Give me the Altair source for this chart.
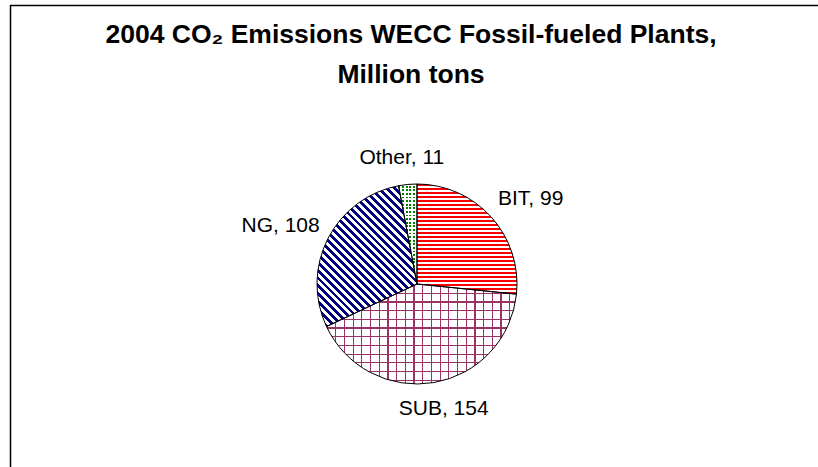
import math
import altair as alt
import pandas as pd

# ---- data ----
fuels = ["BIT", "SUB", "NG", "Other"]
emissions = [99, 154, 108, 11]
title_lines = ["2004 CO\u2082 Emissions WECC Fossil-fueled Plants,", "Million tons"]

# ---- layout / style ----
CX, CY, R = 417, 284, 100
FONT = "Liberation Sans"
LABEL_FONT = 21
GAP = 16.5
LABEL_H = 20

df = pd.DataFrame({"fuel": fuels, "value": emissions, "idx": list(range(len(fuels)))})
total = sum(emissions)


def slice_bbox(i):
    start = sum(emissions[:i]) / total * 360
    end = start + emissions[i] / total * 360
    pts = [(0.0, 0.0)]
    angs = [start, end] + [a for a in (0, 90, 180, 270, 360) if start < a < end]
    for a in angs:
        t = math.radians(a)
        pts.append((R * math.sin(t), -R * math.cos(t)))
    xs = [p[0] for p in pts]
    ys = [p[1] for p in pts]
    return max(xs) - min(xs), max(ys) - min(ys)


def stripe_stops(extent, period, ink, c_on, c_off):
    n = extent / period
    f = ink / period
    stops = []
    k = 0
    while k < n:
        a = min(k / n, 1)
        b = min((k + f) / n, 1)
        c = min((k + 1) / n, 1)
        stops += [
            {"offset": a, "color": c_on},
            {"offset": b, "color": c_on},
            {"offset": b, "color": c_off},
            {"offset": c, "color": c_off},
        ]
        k += 1
    return stops


def grad(stops, x1, y1, x2, y2):
    return {"gradient": "linear", "stops": stops, "x1": x1, "y1": y1, "x2": x2, "y2": y2}


CLEAR = "rgba(255,255,255,0)"

# BIT: horizontal red stripes
w, h = slice_bbox(0)
g_bit = grad(stripe_stops(h, 4.0, 2.1, "#FF0000", "#FFFFFF"), 0, 0, 0, 1)

# SUB: plum grid
w, h = slice_bbox(1)
g_sub_v = grad(stripe_stops(w, 8.7, 1.2, "#993366", "#FFFFFF"), 0, 0, 1, 0)
g_sub_h = grad(stripe_stops(h, 8.7, 1.2, "#993366", CLEAR), 0, 0, 0, 1)

# NG: navy diagonal stripes (top-left to bottom-right)
w, h = slice_bbox(2)
m = max(w, h)
gx, gy = w / m, -h / m
tmax = gx - gy
s = tmax / (gx * gx + gy * gy)
D = (w + h) / math.sqrt(2)
g_ng = grad(stripe_stops(D, 5.6, 2.8, "#000080", "#FFFFFF"), 0, 1, gx * s, 1 + gy * s)

# Other: green dots
w, h = slice_bbox(3)
g_oth_v = grad(stripe_stops(w, 3.6, 1.8, "#008000", "#FFFFFF"), 0, 0, 1, 0)
g_oth_h = grad(stripe_stops(h, 3.6, 1.8, "#FFFFFF", CLEAR), 0, 0, 0, 1)

base = alt.Chart(df).encode(
    theta=alt.Theta("value:Q", stack=True),
    order=alt.Order("idx:Q", sort="ascending"),
    x=alt.value(CX),
    y=alt.value(CY),
)


def fill_layer(fuel, g):
    return base.mark_arc(outerRadius=R).encode(
        fill=alt.condition(alt.datum.fuel == fuel, alt.value(g), alt.value("transparent"))
    )


layers = [
    fill_layer("BIT", g_bit),
    fill_layer("SUB", g_sub_v),
    fill_layer("SUB", g_sub_h),
    fill_layer("NG", g_ng),
    fill_layer("Other", g_oth_v),
    fill_layer("Other", g_oth_h),
    base.mark_arc(outerRadius=R, fillOpacity=0, stroke="black", strokeWidth=1),
]

labels = (
    alt.Chart(df)
    .transform_window(cum="sum(value)", sort=[alt.SortField("idx")])
    .transform_joinaggregate(total="sum(value)")
    .transform_calculate(
        label="datum.fuel + ', ' + datum.value",
        ang="(datum.cum - datum.value / 2) / datum.total * 2 * PI",
        w=f"length(datum.label) * {0.5 * LABEL_FONT}",
        lx=f"{CX} + ({R} + {GAP} + datum.w / 2) * sin(datum.ang)",
        ly=f"{CY} - ({R} + {GAP} + {LABEL_H / 2}) * cos(datum.ang)",
    )
    .mark_text(font=FONT, fontSize=LABEL_FONT, align="center", baseline="middle", color="black")
    .encode(
        x=alt.X("lx:Q", scale=None, axis=None),
        y=alt.Y("ly:Q", scale=None, axis=None),
        text="label:N",
    )
)

one = alt.Data(values=[{}])
title = alt.Chart(one).mark_text(
    text=title_lines, font=FONT, fontSize=26.5, fontWeight="bold",
    align="center", baseline="alphabetic", lineHeight=40, color="black",
).encode(x=alt.value(411), y=alt.value(43))

frame_top = alt.Chart(one).mark_rule(color="black", strokeWidth=1.5).encode(
    x=alt.value(10), x2=alt.value(818), y=alt.value(5.5)
)
frame_left = alt.Chart(one).mark_rule(color="black", strokeWidth=1.5).encode(
    x=alt.value(10.5), y=alt.value(5), y2=alt.value(467)
)

chart = (
    alt.layer(*layers, labels, title, frame_top, frame_left)
    .properties(width=818, height=467, padding=0, autosize=alt.AutoSizeParams(type="none"))
    .configure_view(stroke="transparent")
)

chart.save("out.html", embed_options={"renderer": "svg", "actions": False})
